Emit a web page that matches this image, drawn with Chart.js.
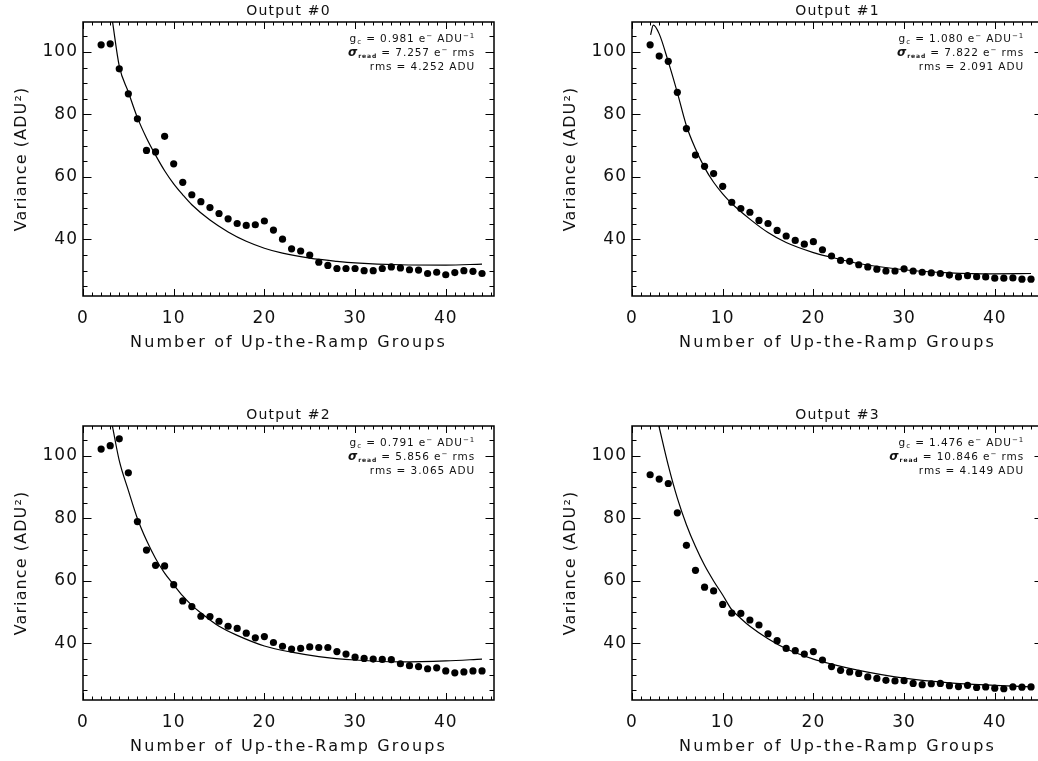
<!DOCTYPE html>
<html>
<head>
<meta charset="utf-8">
<script src="https://cdn.jsdelivr.net/npm/chart.js@4.4.1/dist/chart.umd.min.js"></script>
<style>
html, body { margin: 0; padding: 0; background: #fff; overflow: hidden; width: 1038px; height: 761px; }
.panel { position: absolute; width: 530px; height: 380px; }
</style>
</head>
<body>
<div class="panel" style="left:0;top:0"><canvas id="c0" width="530" height="380"></canvas></div>
<div class="panel" style="left:549px;top:0"><canvas id="c1" width="530" height="380"></canvas></div>
<div class="panel" style="left:0;top:404px"><canvas id="c2" width="530" height="380"></canvas></div>
<div class="panel" style="left:549px;top:404px"><canvas id="c3" width="530" height="380"></canvas></div>
<script>
// number of up-the-ramp groups, shared by all four outputs
const groups = [2,3,4,5,6,7,8,9,10,11,12,13,14,15,16,17,18,19,20,21,22,23,24,25,26,27,28,29,30,31,32,33,34,35,36,37,38,39,40,41,42,43,44];

// measured variance (ADU^2) per output
const var0 = [102.3,102.6,94.6,86.6,78.6,68.5,68.0,73.0,64.2,58.3,54.3,52.1,50.2,48.3,46.6,45.1,44.5,44.7,45.9,43.0,40.1,37.0,36.3,35.0,32.7,31.7,30.7,30.7,30.7,30.0,30.0,30.7,31.2,30.9,30.3,30.2,29.1,29.5,28.7,29.4,30.0,29.8,29.1];
const var1 = [102.3,98.7,97.0,87.1,75.5,67.0,63.4,61.1,57.0,51.9,49.9,48.7,46.1,45.1,42.9,41.1,39.7,38.5,39.3,36.7,34.7,33.3,33.0,31.9,31.2,30.5,29.9,29.9,30.6,29.9,29.5,29.3,29.1,28.6,28.0,28.4,28.1,28.0,27.6,27.6,27.7,27.3,27.3];
const var2 = [102.2,103.3,105.5,94.6,79.0,69.9,65.0,64.8,58.8,53.6,51.8,48.7,48.6,47.1,45.5,44.8,43.3,41.8,42.2,40.3,39.1,38.2,38.4,38.9,38.7,38.7,37.4,36.6,35.6,35.2,35.0,34.9,34.8,33.5,32.9,32.6,31.9,32.2,31.2,30.6,30.9,31.2,31.2];
const var3 = [94.0,92.6,91.2,81.8,71.4,63.4,58.0,56.8,52.5,49.7,49.6,47.5,45.9,43.1,40.9,38.4,37.7,36.6,37.4,34.7,32.6,31.4,30.9,30.4,29.3,28.8,28.2,28.0,28.1,27.2,26.8,27.1,27.2,26.5,26.2,26.6,25.9,26.1,25.7,25.5,26.1,26.0,26.1];

// fitted model curves
const fitX0 = [3.24,4,5,6,7,8,9,10,11,12,14,16,18,20,22,25,28,30,35,40,44];
const fitY0 = [110,95.5,87.2,79,72.5,67,62,57.8,54.3,51.1,46.2,42.4,39.4,37.2,35.6,34.0,33.0,32.5,31.9,31.8,32.1];
const fitX1 = [2.05,2.35,3,4,5,6,7,8,9,10,11,13,15,17,20,22,25,30,35,40,44];
const fitY1 = [105.5,108.6,105.8,96.9,87.0,76.4,69.0,63.0,58.3,54.6,51.5,46.5,42.2,39.0,35.8,34.3,32.3,30.3,29.3,29.0,29.1];
const fitX2 = [3.24,4,5,6,7,8,9,10,11,12,13,15,17,20,23,26,30,35,40,44];
const fitY2 = [109.6,98.5,89,80,73,67.2,62.5,58.8,55.2,52.2,49.8,45.5,42.6,39.2,37.2,35.8,34.7,34.1,34.4,35.0];
const fitX3 = [2.97,4,5,6,7,8,9,10,11,12,13,15,17,20,22,25,30,35,40,44];
const fitY3 = [109.6,97,86.5,78,71,65,60,55.5,50.8,48.0,45.5,41.5,38.3,35.0,33.4,31.4,28.9,27.4,26.6,26.1];

const titles = ['Output #0', 'Output #1', 'Output #2', 'Output #3'];
const gains = ['0.981', '1.080', '0.791', '1.476'];
const readNoise = ['7.257', '7.822', '5.856', '10.846'];
const rmsAdu = ['4.252', '2.091', '3.065', '4.149'];

const xTicks = [0, 10, 20, 30, 40];
const yTicks = [40, 60, 80, 100];
const xMax = 45.32, yMin = 21.9, yMax = 109.6;

const FONT = '"DejaVu Sans"';

function drawRuns(ctx, runs, right, base) {
  let w = 0;
  runs.forEach(r => { ctx.font = r.f; r.w = ctx.measureText(r.t).width; w += r.w; });
  let xx = right - w;
  runs.forEach(r => { ctx.font = r.f; ctx.fillText(r.t, xx, base + (r.dy || 0)); xx += r.w; });
}

const frame = {
  id: 'frame',
  beforeDraw(chart) {
    chart.ctx.letterSpacing = '1px';
  },
  afterDraw(chart, args, o) {
    const ctx = chart.ctx, a = chart.chartArea;
    const x = chart.scales.x, y = chart.scales.y;
    ctx.save();
    ctx.strokeStyle = '#000';
    ctx.fillStyle = '#111';
    ctx.lineWidth = 1.5;
    ctx.strokeRect(a.left, a.top, a.right - a.left, a.bottom - a.top);

    // inward ticks on all sides
    ctx.lineWidth = 1;
    ctx.beginPath();
    for (let v = 0; v <= xMax; v++) {
      const px = Math.round(x.getPixelForValue(v)) + 0.5;
      const len = v % 10 === 0 ? 7 : 3.5;
      ctx.moveTo(px, a.bottom); ctx.lineTo(px, a.bottom - len);
      ctx.moveTo(px, a.top); ctx.lineTo(px, a.top + len);
    }
    for (let v = 25; v <= yMax; v += 5) {
      const py = Math.round(y.getPixelForValue(v)) + 0.5;
      const len = v % 20 === 0 ? 8.5 : 4.5;
      ctx.moveTo(a.left, py); ctx.lineTo(a.left + len, py);
      ctx.moveTo(a.right, py); ctx.lineTo(a.right - len, py);
    }
    ctx.stroke();

    const cx = (a.left + a.right) / 2;
    const cy = (a.top + a.bottom) / 2;

    // panel title
    ctx.textAlign = 'center';
    ctx.textBaseline = 'alphabetic';
    ctx.letterSpacing = '1.2px';
    ctx.font = '14px ' + FONT;
    ctx.fillText(o.title, cx, a.top - 7);

    // axis titles
    ctx.letterSpacing = '2.1px';
    ctx.font = '16px ' + FONT;
    ctx.fillText('Number of Up-the-Ramp Groups', cx, a.bottom + 51);
    ctx.save();
    ctx.translate(a.left - 57, cy);
    ctx.rotate(-Math.PI / 2);
    ctx.letterSpacing = '1.1px';
    ctx.fillText('Variance (ADU\u00B2)', 0, 0);
    ctx.restore();

    // fit results
    ctx.textAlign = 'left';
    ctx.letterSpacing = '0.9px';
    const nf = '10.5px ' + FONT, sf = '7px ' + FONT;
    const right = a.left + 392;
    drawRuns(ctx, [
      {t: 'g', f: nf}, {t: 'c', f: sf, dy: 2},
      {t: ' = ' + o.gain + ' e', f: nf}, {t: '\u2212', f: sf, dy: -4},
      {t: ' ADU', f: nf}, {t: '\u22121', f: sf, dy: -4}
    ], right, a.top + 20);
    drawRuns(ctx, [
      {t: '\u03C3', f: 'bold italic 12px ' + FONT}, {t: 'read', f: 'bold 6px ' + FONT, dy: 2},
      {t: ' = ' + o.read + ' e', f: nf}, {t: '\u2212', f: sf, dy: -4},
      {t: ' rms', f: nf}
    ], right, a.top + 34);
    drawRuns(ctx, [{t: 'rms = ' + o.rms + ' ADU', f: nf}], right, a.top + 48);
    ctx.restore();
  }
};

function makeChart(id, vals, fitX, fitY, i) {
  new Chart(document.getElementById(id), {
    type: 'scatter',
    data: {
      datasets: [
        {
          data: groups.map((g, k) => ({x: g, y: vals[k]})),
          showLine: false,
          pointRadius: 3.6,
          pointBackgroundColor: '#000',
          pointBorderColor: '#000',
          pointBorderWidth: 0
        },
        {
          data: fitX.map((g, k) => ({x: g, y: fitY[k]})),
          showLine: true,
          pointRadius: 0,
          borderColor: '#000',
          borderWidth: 1.2,
          cubicInterpolationMode: 'monotone',
          fill: false
        }
      ]
    },
    options: {
      responsive: false,
      animation: false,
      events: [],
      layout: { padding: { top: 22, right: 36, left: 0, bottom: 0 } },
      plugins: {
        legend: { display: false },
        tooltip: { enabled: false },
        frame: { title: titles[i], gain: gains[i], read: readNoise[i], rms: rmsAdu[i] }
      },
      scales: {
        x: {
          type: 'linear',
          min: 0,
          max: xMax,
          grid: { display: false, drawTicks: false },
          border: { display: false },
          afterBuildTicks: s => { s.ticks = xTicks.map(v => ({value: v})); },
          afterFit: s => { s.height = 84; },
          ticks: { color: '#111', font: { family: 'DejaVu Sans', size: 17 }, padding: 12, maxRotation: 0, autoSkip: false }
        },
        y: {
          type: 'linear',
          min: yMin,
          max: yMax,
          grid: { display: false, drawTicks: false },
          border: { display: false },
          afterBuildTicks: s => { s.ticks = yTicks.map(v => ({value: v})); },
          afterFit: s => { s.width = 83; },
          ticks: { color: '#111', font: { family: 'DejaVu Sans', size: 17 }, padding: 5, autoSkip: false }
        }
      }
    },
    plugins: [frame]
  });
}

makeChart('c0', var0, fitX0, fitY0, 0);
makeChart('c1', var1, fitX1, fitY1, 1);
makeChart('c2', var2, fitX2, fitY2, 2);
makeChart('c3', var3, fitX3, fitY3, 3);
</script>
</body>
</html>
